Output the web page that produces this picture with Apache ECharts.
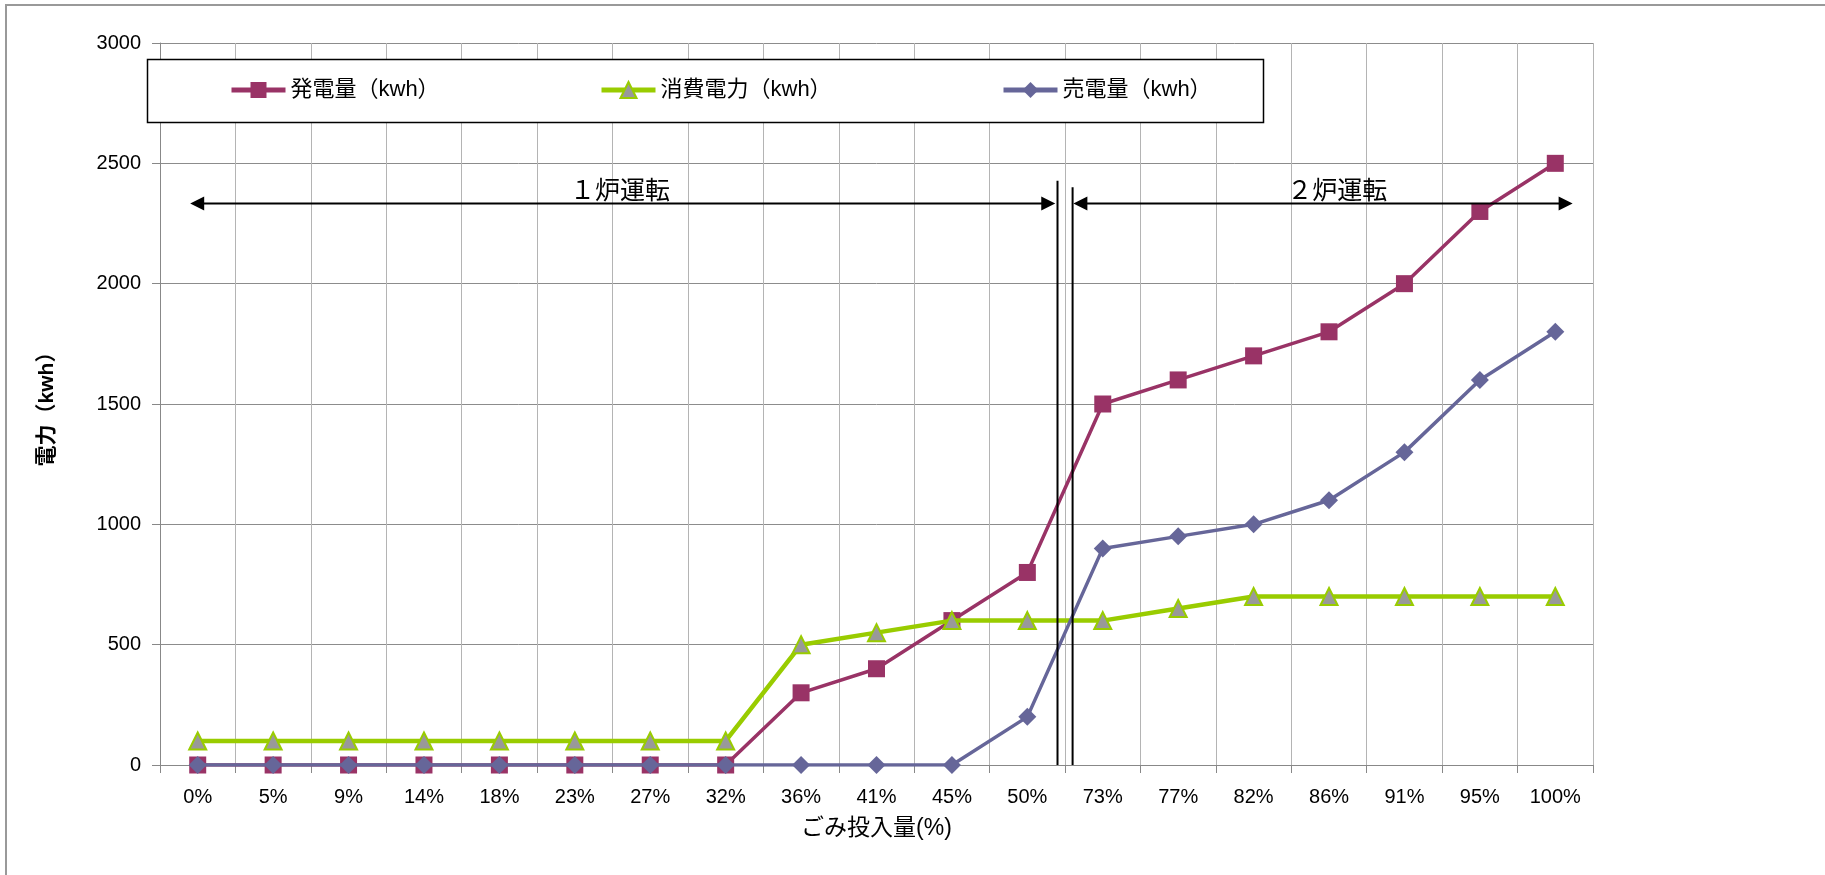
<!DOCTYPE html>
<html>
<head>
<meta charset="utf-8">
<script src="https://cdn.jsdelivr.net/npm/echarts@6/dist/echarts.min.js"></script>
<style>
	html, body { margin: 0; padding: 0; background: #fff; }
	#power_chart { width: 1825px; height: 875px; }
</style>
</head>
<body>
<div id="power_chart"></div>
<script>
	var categories = ['0%', '5%', '9%', '14%', '18%', '23%', '27%', '32%', '36%', '41%', '45%', '50%', '73%', '77%', '82%', '86%', '91%', '95%', '100%'];
	var seriesNames = ['発電量（kwh）', '消費電力（kwh）', '売電量（kwh）'];
	var hatsuden = [0, 0, 0, 0, 0, 0, 0, 0, 300, 400, 600, 800, 1500, 1600, 1700, 1800, 2000, 2300, 2500];
	var shohi = [100, 100, 100, 100, 100, 100, 100, 100, 500, 550, 600, 600, 600, 650, 700, 700, 700, 700, 700];
	var baiden = [0, 0, 0, 0, 0, 0, 0, 0, 0, 0, 0, 200, 900, 950, 1000, 1100, 1300, 1600, 1800];

	// annotation positions: [category index (fractional), value]
	var rangeArrows = [
		{ from: -0.1, to: 11.37, y: 2334, text: '１炉運転', textAt: 5.6 },
		{ from: 11.61, to: 18.23, y: 2334, text: '２炉運転', textAt: 15.11 }
	];
	var dividers = [[11.4, 2428], [11.6, 2401]];
	var labelY = 2392;

	var numFont = "'Liberation Sans', 'Noto Sans CJK JP', sans-serif";

	var chart = echarts.init(document.getElementById('power_chart'));
	var option = {
		backgroundColor: '#fff',
		animation: false,
		textStyle: { fontFamily: numFont, color: '#000' },
		grid: { left: 160, right: 232, top: 43, height: 722 },
		legend: [
			{ data: [seriesNames[0]], left: 229, top: 79 },
			{ data: [seriesNames[1]], left: 599, top: 79 },
			{ data: [seriesNames[2]], left: 1001, top: 79 }
		].map(function (l) {
			l.selectedMode = false;
			l.itemWidth = 54;
			l.itemHeight = 20;
			l.padding = 0;
			l.z = 10;
			l.lineStyle = { width: 5 };
			l.textStyle = { fontSize: 22, color: '#000', fontFamily: numFont };
			return l;
		}),
		xAxis: [{
			type: 'category',
			data: categories,
			boundaryGap: true,
			name: 'ごみ投入量(%)',
			nameLocation: 'middle',
			nameGap: 52,
			nameTextStyle: { fontSize: 23, color: '#000' },
			axisLine: { lineStyle: { color: '#888', width: 1 } },
			axisTick: { show: true, interval: 0, length: 8, lineStyle: { color: '#888' } },
			axisLabel: { interval: 0, fontSize: 20, color: '#000', margin: 22 },
			splitLine: { show: true, interval: 0, lineStyle: { color: '#b4b4b4', width: 1 } }
		}],
		yAxis: [{
			type: 'value',
			min: 0,
			max: 3000,
			interval: 500,
			name: '電力（kwh）',
			nameLocation: 'middle',
			nameGap: 102,
			nameTextStyle: { fontSize: 21, fontWeight: 'bold', color: '#000' },
			axisLine: { show: true, lineStyle: { color: '#888', width: 1 } },
			axisTick: { show: true, length: 8, lineStyle: { color: '#888' } },
			axisLabel: { fontSize: 20, color: '#000', margin: 19, formatter: function (v) { return String(v); } },
			splitLine: { show: true, lineStyle: { color: '#8c8c8c', width: 1 } }
		}],
		series: [
			{
				name: seriesNames[0], type: 'line', data: hatsuden,
				symbol: 'rect', symbolSize: 17,
				lineStyle: { color: '#993366', width: 3.5 },
				itemStyle: { color: '#993366', borderColor: '#993366', borderWidth: 0 },
				z: 2
			},
			{
				name: seriesNames[1], type: 'line', data: shohi,
				symbol: 'triangle', symbolSize: [17, 17],
				lineStyle: { color: '#99cc00', width: 4.5 },
				itemStyle: { color: '#999999', borderColor: '#99cc00', borderWidth: 2 },
				z: 3
			},
			{
				name: seriesNames[2], type: 'line', data: baiden,
				symbol: 'diamond', symbolSize: [18, 18],
				lineStyle: { color: '#666699', width: 3.5 },
				itemStyle: { color: '#666699', borderColor: '#666699', borderWidth: 0 },
				z: 4
			}
		]
	};
	chart.setOption(option);

	function toPx(ix, v) {
		var a = chart.convertToPixel({ gridIndex: 0 }, [0, v]);
		var b = chart.convertToPixel({ gridIndex: 0 }, [1, v]);
		return [a[0] + (b[0] - a[0]) * ix, a[1]];
	}

	var graphics = [];
	// outer frame
	graphics.push({ type: 'rect', shape: { x: 6, y: 5, width: 1840, height: 900 }, style: { fill: null, stroke: '#999', lineWidth: 2 }, z: 1 });
	// legend box
	graphics.push({ type: 'rect', shape: { x: 147.5, y: 59.5, width: 1116, height: 63 }, style: { fill: '#fff', stroke: '#000', lineWidth: 1.5 }, z: 3 });

	rangeArrows.forEach(function (r) {
		var p1 = toPx(r.from, r.y), p2 = toPx(r.to, r.y);
		var y = Math.round(p1[1]) + 0.5;
		graphics.push({ type: 'line', shape: { x1: p1[0] + 6, y1: y, x2: p2[0] - 6, y2: y }, style: { stroke: '#000', lineWidth: 2 }, z: 20 });
		graphics.push({ type: 'polygon', shape: { points: [[p1[0], y], [p1[0] + 14, y - 7], [p1[0] + 14, y + 7]] }, style: { fill: '#000' }, z: 20 });
		graphics.push({ type: 'polygon', shape: { points: [[p2[0], y], [p2[0] - 14, y - 7], [p2[0] - 14, y + 7]] }, style: { fill: '#000' }, z: 20 });
		var t = toPx(r.textAt, labelY);
		graphics.push({ type: 'text', x: t[0], y: t[1], style: { text: r.text, fontSize: 25, fontFamily: "'Noto Sans CJK JP', sans-serif", fill: '#000', align: 'center', verticalAlign: 'middle' }, z: 20 });
	});

	dividers.forEach(function (d) {
		var top = toPx(d[0], d[1]), bottom = toPx(d[0], 0);
		graphics.push({ type: 'line', shape: { x1: top[0], y1: top[1], x2: bottom[0], y2: bottom[1] }, style: { stroke: '#000', lineWidth: 2 }, z: 20 });
	});

	chart.setOption({ graphic: graphics });
</script>
</body>
</html>
